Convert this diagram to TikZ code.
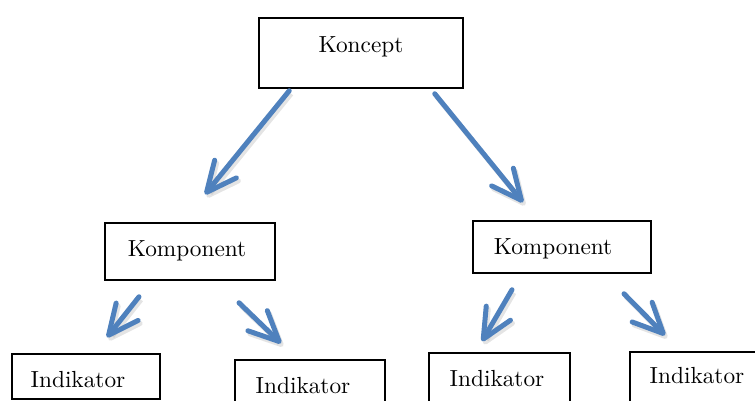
\documentclass[tikz,border=0pt]{standalone}
\usepackage{amsmath, amssymb}
\usepackage{tikz}
\usetikzlibrary{arrows.meta, calc}

\definecolor{arrowblue}{RGB}{79,129,189}
\newcommand{\bigtxt}[1]{\scalebox{2.33}{#1}}

\begin{document}
\begin{tikzpicture}[x=1pt, y=-1pt,
    box/.style={draw, line width=1.5pt, inner sep=0pt},
    txt/.style={anchor=base, font=\normalsize},
    arr/.style={line width=5pt, arrowblue, line cap=round,
        -{Straight Barb[length=30pt, width=28pt, line cap=round, line join=round]},
        preaction={draw=black!30, opacity=0.35, line width=5pt,
            transform canvas={shift={(2pt,-3pt)}}}}]
    \clip (0,0) rectangle (755,400);

    % boxes
    \node[box, minimum width=204pt, minimum height=70pt] (koncept) at (361,53) {};
    \node[box, minimum width=170pt, minimum height=57pt] (kompL) at (190,251.5) {};
    \node[box, minimum width=178pt, minimum height=52pt] (kompR) at (562,247) {};
    \node[box, minimum width=148pt, minimum height=45pt] (ind1) at (86,376.5) {};
    \node[box, minimum width=150pt, minimum height=70pt] (ind2) at (310,395) {};
    \node[box, minimum width=141pt, minimum height=77pt] (ind3) at (499.5,391.5) {};
    \node[box, minimum width=150pt, minimum height=78pt] (ind4) at (705,391) {};

    % texts
    \node[txt] (konceptT) at (361,52) {\bigtxt{Koncept}};
    \node[txt] (kompLT) at (187,256) {\bigtxt{Komponent}};
    \node[txt] (kompRT) at (553,254) {\bigtxt{Komponent}};
    \node[txt] (ind1T) at (78,387) {\bigtxt{Indikator}};
    \node[txt] (ind2T) at (303,393) {\bigtxt{Indikator}};
    \node[txt] (ind3T) at (497,386) {\bigtxt{Indikator}};
    \node[txt] (ind4T) at (697,383) {\bigtxt{Indikator}};

    % arrows
    \draw[arr] ($(koncept.south west)+(31,2)$) -- ($(kompL.north)+(15,-28)$);
    \draw[arr] ($(koncept.south east)+(-29,5)$) -- ($(kompR.north)+(-39,-18)$);
    \draw[arr] ($(kompL.south)+(-51,16)$) -- ($(ind1.north)+(21,-16)$);
    \draw[arr] ($(kompL.south)+(49,22)$) -- ($(ind2.north)+(-29,-16)$);
    \draw[arr] ($(kompR.south)+(-50,16)$) -- ($(ind3.north)+(-17.5,-11)$);
    \draw[arr] ($(kompR.south)+(62,20)$) -- ($(ind4.north)+(-40,-16)$);
\end{tikzpicture}
\end{document}
